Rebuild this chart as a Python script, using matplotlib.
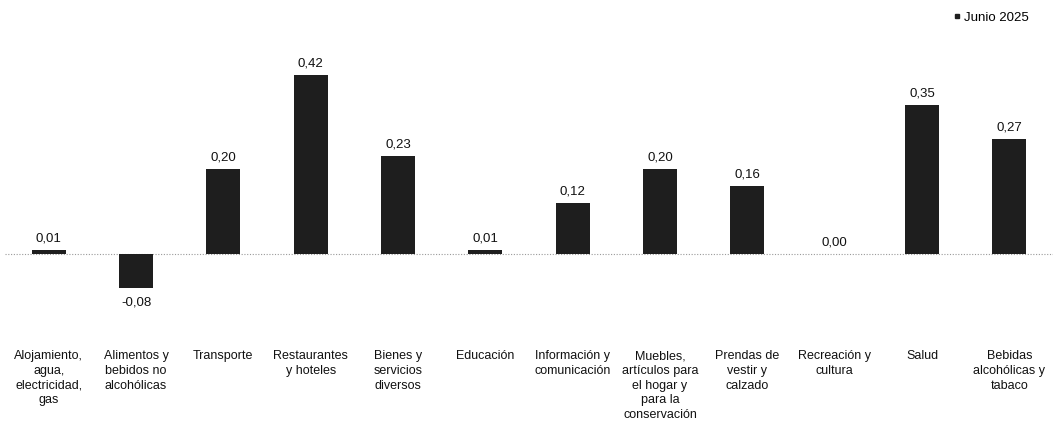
import numpy as np
import matplotlib
matplotlib.use("Agg")
import matplotlib.pyplot as plt
from matplotlib.lines import Line2D

plt.rcParams['font.family'] = ['Liberation Sans', 'DejaVu Sans']

# categorias y valores (junio 2025)
categorias = [
    "Alojamiento,\nagua,\nelectricidad,\ngas",
    "Alimentos y\nbebidos no\nalcohólicas",
    "Transporte",
    "Restaurantes\ny hoteles",
    "Bienes y\nservicios\ndiversos",
    "Educación",
    "Información y\ncomunicación",
    "Muebles,\nartículos para\nel hogar y\npara la\nconservación",
    "Prendas de\nvestir y\ncalzado",
    "Recreación y\ncultura",
    "Salud",
    "Bebidas\nalcohólicas y\ntabaco",
]
valores = [0.01, -0.08, 0.20, 0.42, 0.23, 0.01, 0.12, 0.20, 0.16, 0.00, 0.35, 0.27]
serie = "Junio 2025"

W, H = 1054, 426
fig = plt.figure(figsize=(W / 100, H / 100), dpi=100)
# ejes en pixeles: izq 5, der 1053, arriba 40, abajo 346
ax = fig.add_axes([5 / W, 1 - 346 / H, 1048 / W, 306 / H])

x = np.arange(len(valores))
color_barra = "#1e1e1e"
ax.bar(x, valores, width=0.39, color=color_barra, zorder=2)
ax.axhline(0, color="#9a9a9a", lw=0.8, ls=(0, (1, 1.5)), zorder=1)

for xi, v in zip(x, valores):
    etiqueta = f"{v:.2f}".replace(".", ",")
    if v < 0:
        ax.annotate(etiqueta, (xi, v), xytext=(0, -6), textcoords="offset points",
                    ha="center", va="top", fontsize=9.5, color="#111111")
    else:
        ax.annotate(etiqueta, (xi, v), xytext=(0, 4), textcoords="offset points",
                    ha="center", va="bottom", fontsize=9.5, color="#111111")

ppu = 179 / 0.42  # pixeles por unidad
ax.set_ylim(-(346 - 254) / ppu, (254 - 40) / ppu)
ax.set_xlim(-0.5, len(valores) - 0.5)

ax.set_xticks(x)
ax.set_xticklabels(categorias, fontsize=9, linespacing=1.3, ha="center",
                   multialignment="center", color="#111111")
ax.tick_params(axis="x", length=0, pad=3)
ax.set_yticks([])
for s in ax.spines.values():
    s.set_visible(False)

leyenda = [Line2D([0], [0], marker="s", color="none", markerfacecolor=color_barra,
                  markeredgecolor=color_barra, markersize=3.5, label=serie)]
fig.legend(handles=leyenda, loc="upper right", bbox_to_anchor=(1034 / W, 1 - 6 / H),
           frameon=False, fontsize=9.5, handletextpad=0.1, handlelength=0.8,
           borderaxespad=0)

fig.savefig("out.png", dpi=100, facecolor="white")
